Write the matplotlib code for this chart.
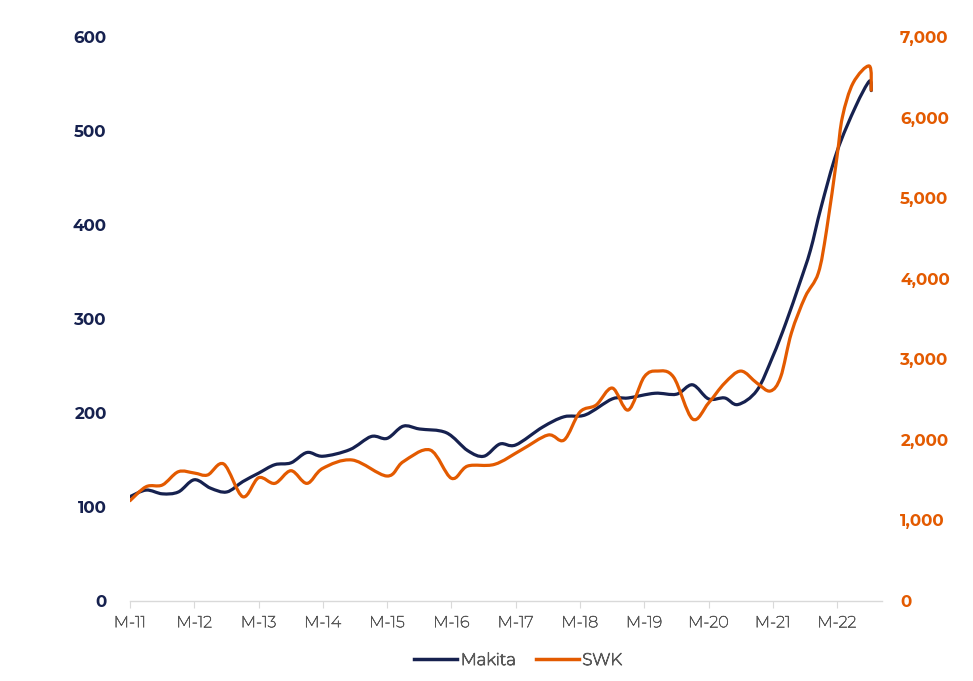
import matplotlib
matplotlib.use("Agg")
import matplotlib.pyplot as plt
import matplotlib.dates as mdates
import matplotlib.patheffects as pe
from matplotlib.path import Path
from matplotlib.patches import PathPatch
from matplotlib.lines import Line2D
import numpy as np
import pandas as pd

# ---- data ----
makita_dates = ["2011-03-01", "2011-06-01", "2011-09-01", "2011-12-01", "2012-03-01", "2012-06-01",
                "2012-09-01", "2012-12-01", "2013-03-01", "2013-06-01", "2013-09-01", "2013-12-01",
                "2014-03-01", "2014-08-01", "2014-12-01", "2015-03-01", "2015-06-01", "2015-09-01",
                "2016-02-01", "2016-06-01", "2016-09-01", "2016-12-01", "2017-03-01", "2017-08-01",
                "2017-12-01", "2018-04-01", "2018-09-01", "2018-12-01", "2019-05-01", "2019-09-01",
                "2019-12-01", "2020-03-01", "2020-06-01", "2020-08-15", "2020-12-01", "2021-03-01",
                "2021-05-15", "2021-08-01", "2021-10-01", "2021-12-01", "2022-03-01",
                "2022-06-15", "2022-09-01", "2022-09-12"]
makita_values = [111, 118, 114, 116, 129, 120,
                 116, 127, 136, 145, 147, 158,
                 154, 161, 175, 173, 186, 183,
                 179, 160, 154, 167, 166, 185,
                 196, 198, 215, 216, 221, 220,
                 230, 215, 216, 209, 224, 260,
                 296, 338, 373, 419, 478,
                 526, 553, 543]

swk_dates = ["2011-03-01", "2011-06-01", "2011-09-01", "2011-12-01", "2012-03-01", "2012-05-15",
             "2012-08-15", "2012-12-01", "2013-03-01", "2013-06-01", "2013-09-01", "2013-12-01",
             "2014-03-01", "2014-08-15", "2015-03-01", "2015-06-01", "2015-11-01", "2016-03-01",
             "2016-06-01", "2016-11-01", "2017-04-01", "2017-09-01", "2017-12-01", "2018-03-01",
             "2018-06-01", "2018-09-01", "2018-12-01", "2019-03-01", "2019-05-15", "2019-08-15",
             "2019-12-01", "2020-03-01", "2020-06-01", "2020-09-01", "2020-12-01", "2021-02-15",
             "2021-04-15", "2021-06-15", "2021-09-01", "2021-11-15", "2022-01-01", "2022-03-01",
             "2022-04-01", "2022-06-01", "2022-09-01", "2022-09-12"]
swk_values = [1245, 1419, 1440, 1605, 1588, 1564,
              1700, 1294, 1530, 1460, 1617, 1460,
              1647, 1750, 1551, 1729, 1874, 1523,
              1675, 1696, 1874, 2060, 1998, 2345,
              2432, 2643, 2370, 2780, 2854, 2780,
              2259, 2457, 2705, 2854, 2705, 2606,
              2780, 3326, 3773, 4070, 4604, 5510,
              6007, 6430, 6640, 6340]

tick_dates = ["2011-03-01", "2012-03-01", "2013-03-01", "2014-03-01", "2015-03-01", "2016-03-01",
              "2017-03-01", "2018-03-01", "2019-03-01", "2020-03-01", "2021-03-01", "2022-03-01"]
tick_labels = ["M-11", "M-12", "M-13", "M-14", "M-15", "M-16",
               "M-17", "M-18", "M-19", "M-20", "M-21", "M-22"]

left_ticks = [0, 100, 200, 300, 400, 500, 600]
right_ticks = [0, 1000, 2000, 3000, 4000, 5000, 6000, 7000]

NAVY = "#16214f"
ORANGE = "#e35a00"
GRAY = "#595959"

NUM_FAM = ['Montserrat Alternates', 'Lato', 'DejaVu Sans']
TXT_FAM = ['Montserrat', 'Lato', 'DejaVu Sans']
plt.rcParams['font.family'] = TXT_FAM


def smooth_path(xs, ys):
    """Catmull-Rom style smoothed path (like spreadsheet 'smoothed line')."""
    pts = np.column_stack([xs, ys]).astype(float)
    n = len(pts)
    verts = [pts[0]]
    codes = [Path.MOVETO]
    for i in range(n - 1):
        p0 = pts[i - 1] if i > 0 else pts[i]
        p1 = pts[i]
        p2 = pts[i + 1]
        p3 = pts[i + 2] if i + 2 < n else pts[i + 1]
        c1 = p1 + (p2 - p0) / 6.0
        c2 = p2 - (p3 - p1) / 6.0
        verts += [c1, c2, p2]
        codes += [Path.CURVE4] * 3
    return Path(verts, codes)


fig = plt.figure(figsize=(9.73, 6.81), dpi=100)
ax = fig.add_axes([130 / 973, 1 - 601 / 681, (882 - 130) / 973, (601 - 37) / 681])
ax2 = ax.twinx()

mx = mdates.date2num(pd.to_datetime(makita_dates))
sx = mdates.date2num(pd.to_datetime(swk_dates))

ax.add_patch(PathPatch(smooth_path(mx, makita_values), facecolor="none", edgecolor=NAVY,
                       lw=2.3, capstyle="round", joinstyle="round", zorder=3))
ax2.add_patch(PathPatch(smooth_path(sx, swk_values), facecolor="none", edgecolor=ORANGE,
                        lw=2.3, capstyle="round", joinstyle="round", zorder=3))

x0 = mdates.date2num(pd.Timestamp("2011-03-01"))
x1 = mdates.date2num(pd.Timestamp("2022-11-12"))
ax.set_xlim(x0, x1)
ax.set_ylim(0, 600)
ax2.set_ylim(0, 7000)

ax.set_xticks(mdates.date2num(pd.to_datetime(tick_dates)))
xt = ax.set_xticklabels(tick_labels, color=GRAY, fontsize=11.5, family=TXT_FAM)
for t in xt:
    t.set_path_effects([pe.withStroke(linewidth=0.45, foreground=GRAY)])
ax.tick_params(axis="x", length=5, color="#d9d9d9", pad=6)

ax.set_yticks(left_ticks)
ax.set_yticklabels([str(v) for v in left_ticks], color=NAVY, fontsize=12, fontweight="bold",
                   family=NUM_FAM)
ax.tick_params(axis="y", length=0, pad=17)

ax2.set_yticks(right_ticks)
ax2.set_yticklabels([f"{v:,}" for v in right_ticks], color=ORANGE, fontsize=12, fontweight="bold",
                    family=NUM_FAM)
ax2.tick_params(axis="y", length=0, pad=13)

for a in (ax, ax2):
    for s in ("top", "left", "right"):
        a.spines[s].set_visible(False)
    a.spines["bottom"].set_color("#d9d9d9")
    a.spines["bottom"].set_linewidth(1.0)
ax2.spines["bottom"].set_visible(False)

handles = [Line2D([0], [0], color=NAVY, lw=2.5), Line2D([0], [0], color=ORANGE, lw=2.5)]
leg = fig.legend(handles, ["Makita", "SWK"], loc="center", bbox_to_anchor=(518 / 973, 1 - 660 / 681),
                 ncol=2, frameon=False, prop={'family': TXT_FAM, 'size': 12}, labelcolor=GRAY,
                 handlelength=2.6, handletextpad=0.2, columnspacing=1.2)
for t in leg.get_texts():
    t.set_path_effects([pe.withStroke(linewidth=0.8, foreground=GRAY)])

fig.savefig("out.png", dpi=100)
